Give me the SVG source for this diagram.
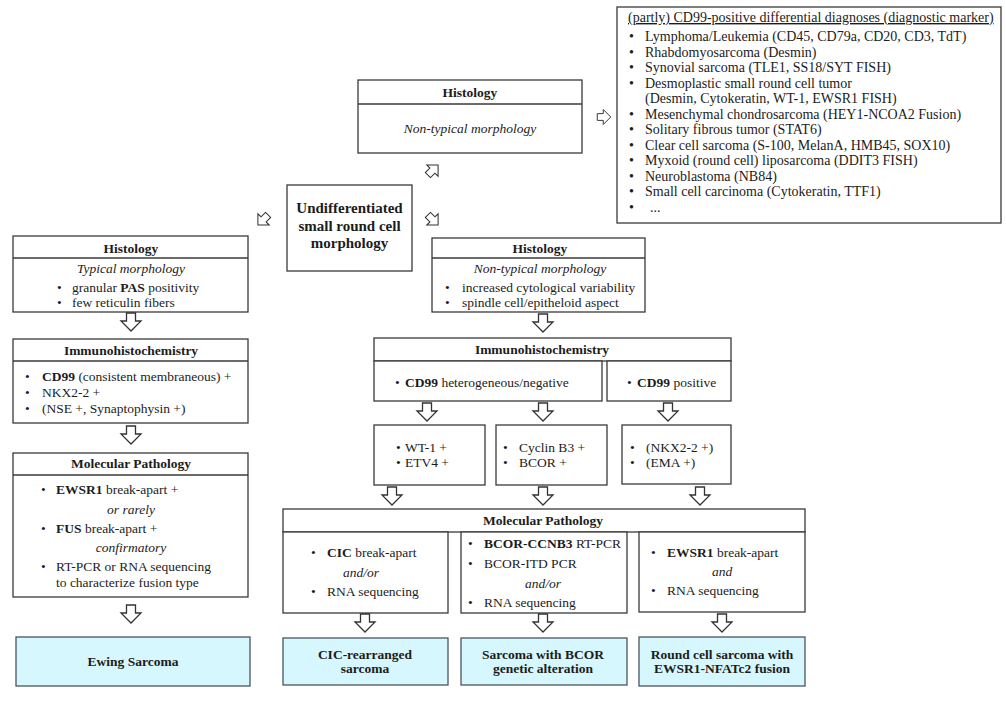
<svg xmlns="http://www.w3.org/2000/svg" xmlns:xlink="http://www.w3.org/1999/xlink" width="1006" height="722" viewBox="0 0 1006 722">
<style>
  .box{fill:#fff;stroke:#3a3a3a;stroke-width:1.3}
  .res{fill:#d6f7fd;stroke:#4a5660;stroke-width:1.3}
  .hl{stroke:#3a3a3a;stroke-width:1.3}
  text{font-family:"Liberation Serif","Times New Roman",serif;fill:#1c1c1c;font-size:13.5px}
  .h{font-weight:bold;text-anchor:middle;font-size:13.5px}
  .c{text-anchor:middle}
  .i{font-style:italic}
  .b{font-weight:bold}
  .tr{font-size:14px}
  .big{font-weight:bold;text-anchor:middle;font-size:15px}
  .arr{fill:#fff;stroke:#333;stroke-width:1.3;stroke-linejoin:miter}
</style>
<defs>
  <path id="arw" class="arr" d="M-4.5,-9 H4.5 V-1 H10 L0,9 L-10,-1 H-4.5 Z"/>
</defs>

<g id="ddx">
  <rect class="box" x="617" y="7" width="384" height="216"/>
  <text class="tr" x="628" y="22" text-decoration="underline">(partly) CD99-positive differential diagnoses (diagnostic marker)</text>
  <g class="tr">
    <text class="tr" x="629" y="41">•</text><text class="tr" x="645" y="41">Lymphoma/Leukemia (CD45, CD79a, CD20, CD3, TdT)</text>
    <text class="tr" x="629" y="56.5">•</text><text class="tr" x="645" y="56.5">Rhabdomyosarcoma (Desmin)</text>
    <text class="tr" x="629" y="72">•</text><text class="tr" x="645" y="72">Synovial sarcoma (TLE1, SS18/SYT FISH)</text>
    <text class="tr" x="629" y="87.5">•</text><text class="tr" x="645" y="87.5">Desmoplastic small round cell tumor</text>
    <text class="tr" x="645" y="103">(Desmin, Cytokeratin, WT-1, EWSR1 FISH)</text>
    <text class="tr" x="629" y="118.5">•</text><text class="tr" x="645" y="118.5">Mesenchymal chondrosarcoma (HEY1-NCOA2 Fusion)</text>
    <text class="tr" x="629" y="134">•</text><text class="tr" x="645" y="134">Solitary fibrous tumor (STAT6)</text>
    <text class="tr" x="629" y="149.5">•</text><text class="tr" x="645" y="149.5">Clear cell sarcoma (S-100, MelanA, HMB45, SOX10)</text>
    <text class="tr" x="629" y="165">•</text><text class="tr" x="645" y="165">Myxoid (round cell) liposarcoma (DDIT3 FISH)</text>
    <text class="tr" x="629" y="180.5">•</text><text class="tr" x="645" y="180.5">Neuroblastoma (NB84)</text>
    <text class="tr" x="629" y="196">•</text><text class="tr" x="645" y="196">Small cell carcinoma (Cytokeratin, TTF1)</text>
    <text class="tr" x="629" y="211.5">•</text><text class="tr" x="650" y="211.5">...</text>
  </g>
</g>

<g id="histo-top">
  <rect class="box" x="358" y="80" width="224" height="73"/>
  <line class="hl" x1="358" y1="104" x2="582" y2="104"/>
  <text class="h" x="470" y="97">Histology</text>
  <text class="c i" x="470" y="133">Non-typical morphology</text>
</g>

<g id="undiff">
  <rect class="box" x="287" y="185" width="125" height="86"/>
  <text class="big" x="349.5" y="213">Undifferentiated</text>
  <text class="big" x="349.5" y="230.5">small round cell</text>
  <text class="big" x="349.5" y="248">morphology</text>
</g>

<g id="histo-left">
  <rect class="box" x="13" y="236" width="235" height="76"/>
  <line class="hl" x1="13" y1="258" x2="248" y2="258"/>
  <text class="h" x="131" y="252.5">Histology</text>
  <text class="c i" x="131" y="273">Typical morphology</text>
  <text x="57" y="292">•</text><text x="72" y="292">granular <tspan class="b">PAS</tspan> positivity</text>
  <text x="57" y="307">•</text><text x="72" y="307">few reticulin fibers</text>
</g>

<g id="ihc-left">
  <rect class="box" x="13" y="339" width="235" height="84"/>
  <line class="hl" x1="13" y1="361" x2="248" y2="361"/>
  <text class="h" x="131" y="354.5">Immunohistochemistry</text>
  <text x="25" y="381">•</text><text x="42" y="381"><tspan class="b">CD99</tspan> (consistent membraneous) +</text>
  <text x="25" y="397">•</text><text x="42" y="397">NKX2-2 +</text>
  <text x="25" y="413">•</text><text x="42" y="413">(NSE +, Synaptophysin +)</text>
</g>

<g id="mol-left">
  <rect class="box" x="13" y="453" width="235" height="144"/>
  <line class="hl" x1="13" y1="475" x2="248" y2="475"/>
  <text class="h" x="131" y="467.5">Molecular Pathology</text>
  <text x="41" y="494">•</text><text x="56" y="494"><tspan class="b">EWSR1</tspan> break-apart +</text>
  <text class="c i" x="131" y="514">or rarely</text>
  <text x="41" y="533">•</text><text x="56" y="533"><tspan class="b">FUS</tspan> break-apart +</text>
  <text class="c i" x="131" y="552">confirmatory</text>
  <text x="41" y="571">•</text><text x="56" y="571">RT-PCR or RNA sequencing</text>
  <text x="56" y="587">to characterize fusion type</text>
</g>

<g id="ewing">
  <rect class="res" x="16" y="637" width="234" height="49"/>
  <text class="h" x="133" y="666">Ewing Sarcoma</text>
</g>

<g id="histo-right">
  <rect class="box" x="432" y="238" width="213" height="74"/>
  <line class="hl" x1="432" y1="258" x2="645" y2="258"/>
  <text class="h" x="540" y="252.5">Histology</text>
  <text class="c i" x="540" y="273">Non-typical morphology</text>
  <text x="445" y="292">•</text><text x="462" y="292">increased cytological variability</text>
  <text x="445" y="307">•</text><text x="462" y="307">spindle cell/epitheloid aspect</text>
</g>

<g id="ihc-right">
  <rect class="box" x="374" y="338" width="357" height="23"/>
  <text class="h" x="542" y="353.5">Immunohistochemistry</text>
  <rect class="box" x="374" y="361" width="228" height="40"/>
  <text x="395" y="386.5">•</text><text x="405" y="386.5"><tspan class="b">CD99</tspan> heterogeneous/negative</text>
  <rect class="box" x="607" y="361" width="124" height="40"/>
  <text x="627" y="386.5">•</text><text x="637" y="386.5"><tspan class="b">CD99</tspan> positive</text>
</g>

<g id="ihc-wt1">
  <rect class="box" x="374" y="425" width="111" height="60"/>
  <text x="396" y="451.5">•</text><text x="405" y="451.5">WT-1 +</text>
  <text x="396" y="466.5">•</text><text x="405" y="466.5">ETV4 +</text>
</g>
<g id="ihc-cyclin">
  <rect class="box" x="496" y="425" width="111" height="60"/>
  <text x="503" y="451.5">•</text><text x="519" y="451.5">Cyclin B3 +</text>
  <text x="503" y="466.5">•</text><text x="519" y="466.5">BCOR +</text>
</g>
<g id="ihc-nkx">
  <rect class="box" x="622" y="425" width="109" height="59"/>
  <text x="630" y="451.5">•</text><text x="646" y="451.5">(NKX2-2 +)</text>
  <text x="630" y="466.5">•</text><text x="646" y="466.5">(EMA +)</text>
</g>

<g id="mol-right">
  <rect class="box" x="283" y="509" width="522" height="23"/>
  <text class="h" x="543" y="524.5">Molecular Pathology</text>
</g>
<g id="mol-cic">
  <rect class="box" x="283" y="532" width="165" height="81"/>
  <text x="311" y="557">•</text><text x="327" y="557"><tspan class="b">CIC</tspan> break-apart</text>
  <text class="c i" x="361" y="577">and/or</text>
  <text x="311" y="596">•</text><text x="327" y="596">RNA sequencing</text>
</g>
<g id="mol-bcor">
  <rect class="box" x="461" y="532" width="166" height="81"/>
  <text x="468" y="548">•</text><text x="484" y="548" font-size="13px"><tspan class="b">BCOR-CCNB3</tspan> RT-PCR</text>
  <text x="468" y="568">•</text><text x="484" y="568">BCOR-ITD PCR</text>
  <text class="c i" x="543" y="588">and/or</text>
  <text x="468" y="607">•</text><text x="484" y="607">RNA sequencing</text>
</g>
<g id="mol-ewsr1">
  <rect class="box" x="639" y="532" width="166" height="80"/>
  <text x="651" y="557">•</text><text x="667" y="557"><tspan class="b">EWSR1</tspan> break-apart</text>
  <text class="c i" x="722" y="576">and</text>
  <text x="651" y="595">•</text><text x="667" y="595">RNA sequencing</text>
</g>

<g id="res-cic">
  <rect class="res" x="283" y="638" width="165" height="47"/>
  <text class="h" x="365" y="658.5">CIC-rearranged</text>
  <text class="h" x="365" y="673">sarcoma</text>
</g>
<g id="res-bcor">
  <rect class="res" x="461" y="638" width="166" height="47"/>
  <text class="h" x="543" y="658.5">Sarcoma with BCOR</text>
  <text class="h" x="543" y="673">genetic alteration</text>
</g>
<g id="res-nfatc2">
  <rect class="res" x="639" y="637" width="166" height="49"/>
  <text class="h" x="722" y="658.5">Round cell sarcoma with</text>
  <text class="h" x="722" y="673">EWSR1-NFATc2 fusion</text>
</g>

<g id="connectors">
  <use href="#arw" transform="translate(604,117) rotate(-90) scale(0.75)"/>
  <use href="#arw" transform="translate(433,170) rotate(-135) scale(0.8)"/>
  <use href="#arw" transform="translate(263,220) rotate(45) scale(0.8)"/>
  <use href="#arw" transform="translate(433,220) rotate(-45) scale(0.8)"/>
  <use href="#arw" transform="translate(131,322)"/>
  <use href="#arw" transform="translate(131,435)"/>
  <use href="#arw" transform="translate(131,614)"/>
  <use href="#arw" transform="translate(543,323)"/>
  <use href="#arw" transform="translate(427,412)"/>
  <use href="#arw" transform="translate(543,412)"/>
  <use href="#arw" transform="translate(668,412)"/>
  <use href="#arw" transform="translate(392,496)"/>
  <use href="#arw" transform="translate(543,496)"/>
  <use href="#arw" transform="translate(700,496)"/>
  <use href="#arw" transform="translate(365,623)"/>
  <use href="#arw" transform="translate(543,623)"/>
  <use href="#arw" transform="translate(722,623)"/>
</g>
</svg>
